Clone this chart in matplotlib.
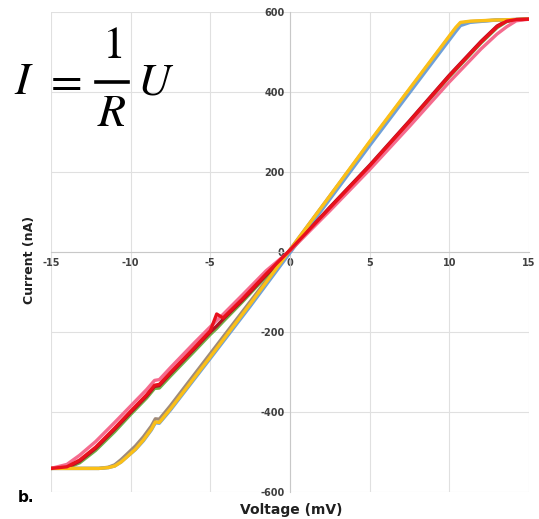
import numpy as np
import matplotlib
matplotlib.use('Agg')
import matplotlib.pyplot as plt
from matplotlib.lines import Line2D

plt.rcParams['mathtext.fontset'] = 'stix'

# Données : deux groupes de courbes I(V)
v_steep = [-15, -12.0, -11.4, -11.0, -10.6, -10.2, -9.7, -9.2, -8.7, -8.45, -8.2,
           -7.5, -5, -2.5, 0, 2.5, 5, 7.5, 10.0, 10.4, 10.7, 11.3, 13, 15]
i_yellow = [-541, -541, -539, -535, -525, -511, -493, -470, -443, -425, -426,
            -392, -262, -130, 5, 140, 276, 408, 540, 561, 574, 577, 580, 582]
i_blue = [-541, -541, -539, -535, -525, -511, -494, -472, -445, -427, -428,
          -395, -266, -136, -2, 132, 266, 398, 530, 551, 566, 574, 580, 582]
i_gray = [-541, -541, -538, -532, -519, -504, -485, -462, -435, -417, -418,
          -384, -254, -124, 6, 140, 274, 406, 538, 559, 572, 576, 580, 582]

v_shallow = [-15, -14.0, -13.2, -12.2, -11.0, -10.0, -9.0, -8.5, -8.2, -7.5, -6,
             -5.0, -4.6, -4.2, -3, -1.5, 0, 2.5, 5, 7.5, 10, 12, 13.0, 13.6, 14.2, 15]
i_red = [-541, -537, -520, -488, -440, -398, -357, -333, -331, -301, -239,
         -197, -155, -165, -118, -55, 5, 110, 215, 326, 440, 525, 563, 577, 581, 582]
i_darkred = [-541, -539, -523, -491, -443, -401, -360, -336, -334, -304, -242,
             -200, -185, -168, -121, -58, 4, 112, 217, 328, 442, 527, 565, 578, 581, 582]
i_pink = [-541, -531, -508, -474, -426, -385, -344, -321, -319, -289, -227,
          -187, -171, -156, -108, -47, 3, 103, 206, 314, 425, 508, 545, 563, 578, 582]
i_green = [-541, -540, -527, -496, -449, -406, -365, -341, -340, -310, -248,
           -206, -191, -174, -125, -61, 3, 108, 213, 324, 438, 523, 561, 576, 581, 582]

xticks = [-15, -10, -5, 0, 5, 10, 15]
yticks = [-600, -400, -200, 0, 200, 400, 600]

fig = plt.figure(figsize=(5.39, 5.19), dpi=100)
ax = fig.add_axes([0.0946, 0.052, 0.8868, 0.9249])

ax.set_xlim(-15, 15)
ax.set_ylim(-600, 600)

for s in ['top', 'right']:
    ax.spines[s].set_visible(False)
ax.spines['left'].set_position('zero')
ax.spines['bottom'].set_position('zero')
ax.spines['left'].set_color('#c8c8c8')
ax.spines['bottom'].set_color('#c8c8c8')
ax.spines['left'].set_linewidth(0.8)
ax.spines['bottom'].set_linewidth(0.8)

ax.set_xticks(xticks)
ax.set_yticks(yticks)
ax.set_xticklabels([str(t) for t in xticks], fontweight='bold', fontsize=7, color='#404040')
ax.set_yticklabels([str(t) for t in yticks], fontweight='bold', fontsize=7, color='#404040')
ax.tick_params(length=0, pad=4)
ax.grid(True, color='#e0e0e0', lw=0.8)
ax.set_axisbelow(True)

lw = 2.4
ax.plot(v_steep, i_gray, color='#a08a78', lw=lw, zorder=3)
ax.plot(v_steep, i_blue, color='#6fa0d8', lw=lw, zorder=3)
ax.plot(v_steep, i_yellow, color='#fbbf17', lw=lw, zorder=4)
ax.plot(v_shallow, i_green, color='#70ad47', lw=lw, zorder=3)
ax.plot(v_shallow, i_darkred, color='#b01020', lw=lw, zorder=3)
ax.plot(v_shallow, i_pink, color='#f56b8e', lw=lw, zorder=4)
ax.plot(v_shallow, i_red, color='#e8101c', lw=lw, zorder=5)

fig.text(0.055, 0.5, 'Current (nA)', rotation=90, fontweight='bold', fontsize=9,
         ha='center', va='center', color='#202020')
fig.text(0.54, 0.017, 'Voltage (mV)', fontweight='bold', fontsize=10,
         ha='center', va='center', color='#202020')
fig.text(0.033, 0.042, 'b.', fontweight='bold', fontsize=11, ha='left', va='center')

# formule I = U / R, en morceaux pour garder la taille du 1 et du R
W, H = 539.0, 519.0
fs = 33
fig.text(14 / W, 1 - 82 / H, r'$I$', fontsize=fs, ha='left', va='center')
fig.text(63 / W, 1 - 80 / H, r'$=$', fontsize=fs, ha='center', va='center')
fig.text(112 / W, 1 - 45 / H, r'$1$', fontsize=fs, ha='center', va='center')
fig.text(112 / W, 1 - 113 / H, r'$R$', fontsize=fs, ha='center', va='center')
fig.text(137 / W, 1 - 82 / H, r'$U$', fontsize=fs, ha='left', va='center')
fig.add_artist(Line2D([96 / W, 128 / W], [1 - 82 / H, 1 - 82 / H], color='black', lw=2.6,
                      transform=fig.transFigure))

plt.savefig('out.png', dpi=100)
